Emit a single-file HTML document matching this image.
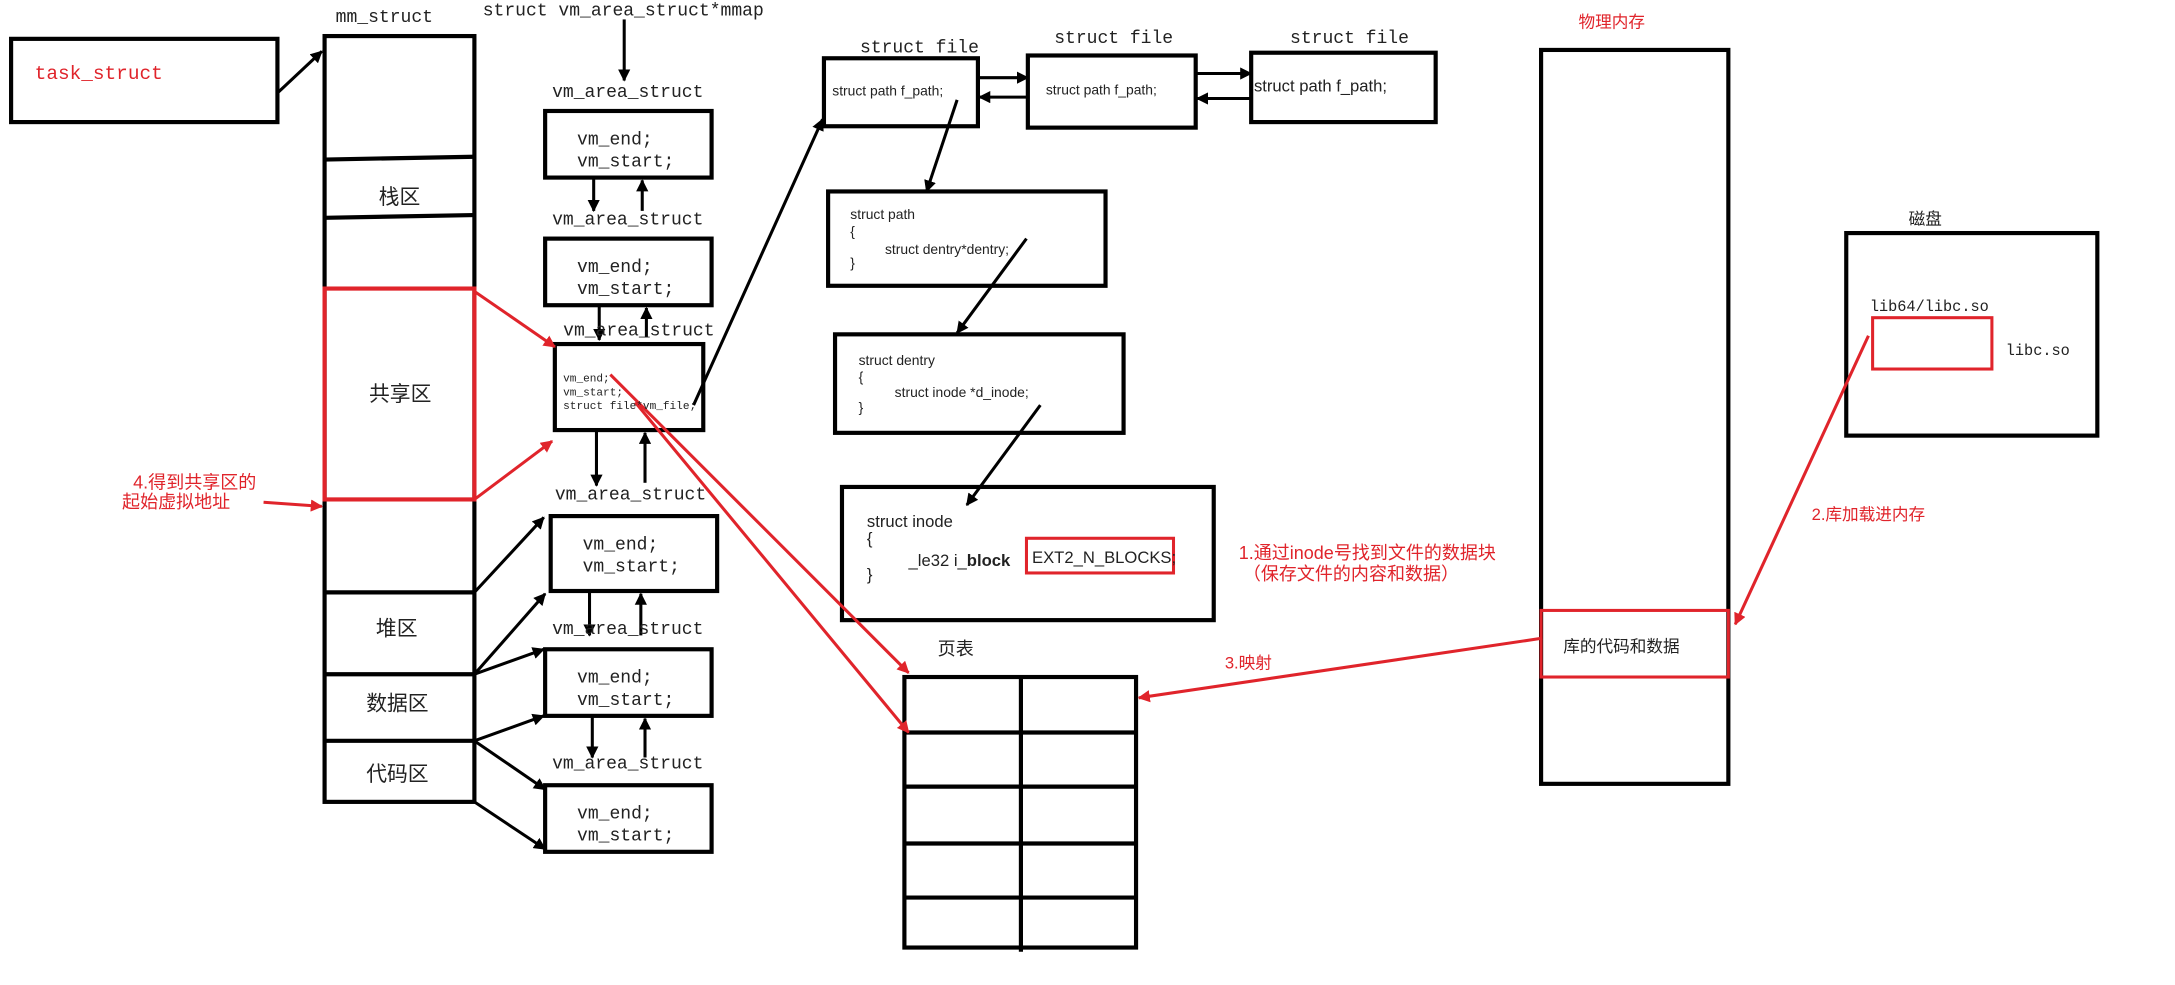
<!DOCTYPE html>
<html><head><meta charset="utf-8"><style>
html,body{margin:0;padding:0;background:#fff;}
svg{display:block;}
text{font-family:"Liberation Sans","Noto Sans CJK SC",sans-serif;fill:#222;}
.r,text.r{fill:#e0242b;}
.m,.m text,text.m{font-family:"Liberation Mono","Noto Sans CJK SC",monospace;}
</style></head><body>
<svg width="2175" height="985" viewBox="0 0 1568 710" preserveAspectRatio="none" xmlns="http://www.w3.org/2000/svg">
<defs>
<marker id="a" viewBox="0 0 10 10" refX="9" refY="5" markerWidth="4" markerHeight="4" orient="auto"><path d="M0,0L10,5L0,10z" fill="#000"/></marker>
<marker id="ar" viewBox="0 0 10 10" refX="9" refY="5" markerWidth="4" markerHeight="4" orient="auto"><path d="M0,0L10,5L0,10z" fill="#e0242b"/></marker>
</defs>
<g fill="none" stroke="#000" stroke-width="3">
<rect x="8" y="28" width="192" height="60"/>
<rect x="234" y="26" width="108" height="552"/>
<line x1="234" y1="115" x2="342" y2="113"/>
<line x1="234" y1="157" x2="342" y2="155"/>
<line x1="234" y1="427" x2="342" y2="427"/>
<line x1="234" y1="486" x2="342" y2="486"/>
<line x1="234" y1="534" x2="342" y2="534"/>
<rect x="393" y="80" width="120" height="48"/>
<rect x="393" y="172" width="120" height="48"/>
<rect x="400" y="248" width="107" height="62"/>
<rect x="397" y="372" width="120" height="54"/>
<rect x="393" y="468" width="120" height="48"/>
<rect x="393" y="566" width="120" height="48"/>
<rect x="594" y="42" width="111" height="49"/>
<rect x="741" y="40" width="121" height="52"/>
<rect x="902" y="38" width="133" height="50"/>
<rect x="597" y="138" width="200" height="68"/>
<rect x="602" y="241" width="208" height="71"/>
<rect x="607" y="351" width="268" height="96"/>
<rect x="652" y="488" width="167" height="195"/>
<line x1="736" y1="488" x2="736" y2="686"/>
<line x1="652" y1="528" x2="819" y2="528"/>
<line x1="652" y1="567" x2="819" y2="567"/>
<line x1="652" y1="608" x2="819" y2="608"/>
<line x1="652" y1="647" x2="819" y2="647"/>
<rect x="1111" y="36" width="135" height="529"/>
<rect x="1331" y="168" width="181" height="146"/>
</g>
<g stroke="#000" stroke-width="2.2" fill="none" marker-end="url(#a)">
<line x1="200" y1="67" x2="232" y2="37"/>
<line x1="450" y1="14" x2="450" y2="58"/>
<line x1="428" y1="129" x2="428" y2="152"/>
<line x1="463" y1="152" x2="463" y2="130"/>
<line x1="432" y1="221" x2="432" y2="245"/>
<line x1="466" y1="243" x2="466" y2="222"/>
<line x1="430" y1="311" x2="430" y2="350"/>
<line x1="465" y1="348" x2="465" y2="312"/>
<line x1="425" y1="427" x2="425" y2="458"/>
<line x1="462" y1="458" x2="462" y2="428"/>
<line x1="427" y1="517" x2="427" y2="546"/>
<line x1="465" y1="546" x2="465" y2="518"/>
<line x1="342" y1="427" x2="392" y2="373"/>
<line x1="342" y1="486" x2="393" y2="428"/>
<line x1="342" y1="486" x2="392" y2="468"/>
<line x1="342" y1="534" x2="392" y2="516"/>
<line x1="342" y1="534" x2="393" y2="569"/>
<line x1="342" y1="578" x2="393" y2="612"/>
<line x1="500" y1="292" x2="593" y2="86"/>
<line x1="705" y1="56" x2="741" y2="56"/>
<line x1="741" y1="70" x2="706" y2="70"/>
<line x1="862" y1="53" x2="902" y2="53"/>
<line x1="902" y1="71" x2="863" y2="71"/>
<line x1="690" y1="72" x2="668" y2="138"/>
<line x1="740" y1="172" x2="690" y2="240"/>
<line x1="750" y1="292" x2="697" y2="364"/>
</g>
<g stroke="#e0242b" stroke-width="2.2" fill="none">
<rect x="234" y="208" width="108" height="152" stroke-width="3"/>
<rect x="740" y="388" width="106" height="25"/>
<rect x="1111" y="440" width="135" height="48"/>
<rect x="1350" y="229" width="86" height="37"/>
<line x1="342" y1="210" x2="400" y2="250" marker-end="url(#ar)"/>
<line x1="342" y1="360" x2="398" y2="318" marker-end="url(#ar)"/>
<line x1="190" y1="362" x2="232" y2="365" marker-end="url(#ar)"/>
<line x1="440" y1="270" x2="655" y2="485" marker-end="url(#ar)"/>
<line x1="458" y1="290" x2="655" y2="528" marker-end="url(#ar)"/>
<line x1="1112" y1="460" x2="821" y2="503" marker-end="url(#ar)"/>
<line x1="1347" y1="242" x2="1251" y2="450" marker-end="url(#ar)"/>
</g>
<text x="25" y="57" font-size="14" class="r m">task_struct</text>
<text x="242" y="16" font-size="13" class="m">mm_struct</text>
<text x="273" y="147" font-size="15">栈区</text>
<text x="266" y="289" font-size="15">共享区</text>
<text x="271" y="458" font-size="15">堆区</text>
<text x="264" y="512" font-size="15">数据区</text>
<text x="264" y="563" font-size="15">代码区</text>
<text x="96" y="352" font-size="13" class="r">4.得到共享区的</text>
<text x="88" y="366" font-size="13" class="r">起始虚拟地址</text>
<g class="m" font-size="13">
<text x="348" y="11">struct vm_area_struct*mmap</text>
<text x="398" y="70">vm_area_struct</text>
<text x="398" y="162">vm_area_struct</text>
<text x="406" y="242">vm_area_struct</text>
<text x="400" y="360">vm_area_struct</text>
<text x="398" y="457">vm_area_struct</text>
<text x="398" y="554">vm_area_struct</text>
<text x="416" y="104">vm_end;</text><text x="416" y="120">vm_start;</text>
<text x="416" y="196">vm_end;</text><text x="416" y="212">vm_start;</text>
<text x="420" y="396">vm_end;</text><text x="420" y="412">vm_start;</text>
<text x="416" y="492">vm_end;</text><text x="416" y="508">vm_start;</text>
<text x="416" y="590">vm_end;</text><text x="416" y="606">vm_start;</text>
<text x="620" y="38">struct file</text>
<text x="760" y="31">struct file</text>
<text x="930" y="31">struct file</text>
</g>
<g class="m" font-size="8"><text x="406" y="275">vm_end;</text><text x="406" y="285">vm_start;</text><text x="406" y="295">struct file*vm_file;</text></g>
<g font-size="10">
<text x="600" y="69">struct path f_path;</text>
<text x="754" y="68">struct path f_path;</text>
<text x="904" y="66" font-size="12">struct path f_path;</text>
<text x="613" y="158">struct path</text><text x="613" y="170">{</text><text x="638" y="183">struct dentry*dentry;</text><text x="613" y="193">}</text>
<text x="619" y="263">struct dentry</text><text x="619" y="275">{</text><text x="645" y="286">struct inode *d_inode;</text><text x="619" y="297">}</text>
<text x="625" y="380" font-size="12">struct inode</text><text x="625" y="392" font-size="12">{</text>
<text x="655" y="408" font-size="12">_le32 i_<tspan font-weight="bold">block</tspan></text>
<text x="744" y="406" font-size="12">EXT2_N_BLOCKS;</text><text x="625" y="418" font-size="12">}</text>
</g>
<text x="676" y="472" font-size="13">页表</text>
<text x="883" y="482" font-size="12" class="r">3.映射</text>
<text x="893" y="403" font-size="13" class="r">1.通过inode号找到文件的数据块</text>
<text x="896" y="418" font-size="13" class="r">（保存文件的内容和数据）</text>
<text x="1138" y="20" font-size="12" class="r">物理内存</text>
<text x="1127" y="470" font-size="12">库的代码和数据</text>
<text x="1376" y="162" font-size="12">磁盘</text>
<text x="1348" y="224" font-size="11" class="m">lib64/libc.so</text>
<text x="1446" y="256" font-size="11" class="m">libc.so</text>
<text x="1306" y="375" font-size="12" class="r">2.库加载进内存</text>
</svg>
</body></html>
